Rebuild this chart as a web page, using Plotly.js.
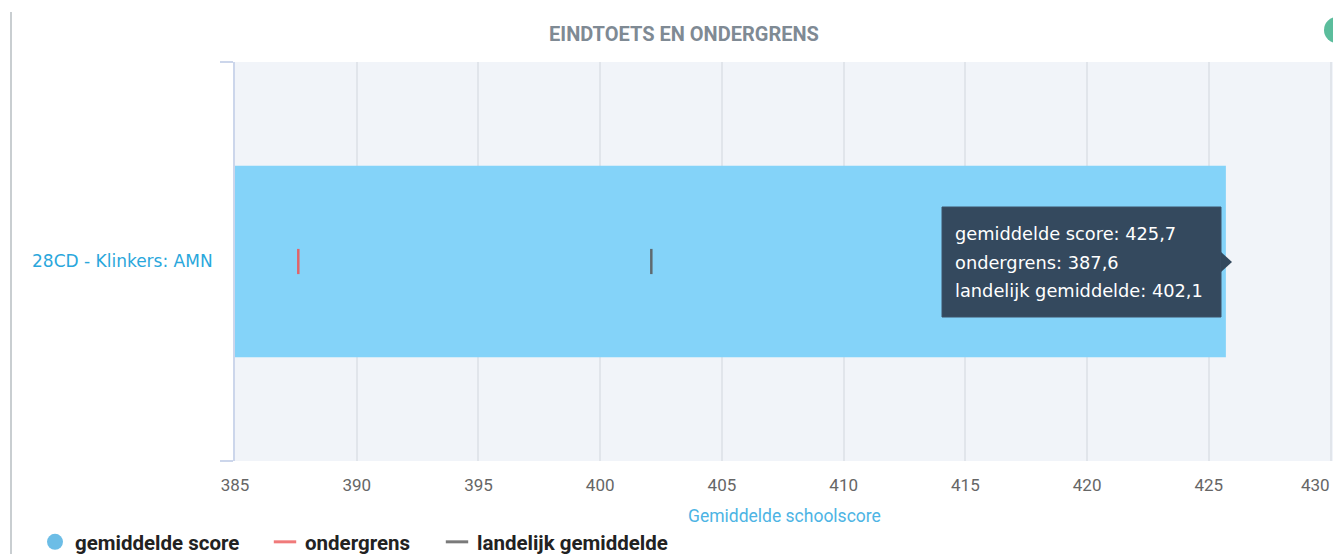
<!DOCTYPE html>
<html>
<head>
<meta charset="utf-8">
<script src="https://cdn.plot.ly/plotly-3.0.1.min.js"></script>
<style>
  html, body { margin: 0; padding: 0; background: #ffffff; }
  #chart { width: 1333px; height: 554px; }
</style>
</head>
<body>
<div id="chart"></div>
<script>
// ---- data ----
const categories = ['28CD - Klinkers: AMN'];
const gemiddeldeScore = [425.7];
const ondergrens = [387.6];
const landelijkGemiddelde = [402.1];
const xTickValues = [385, 390, 395, 400, 405, 410, 415, 420, 425, 430];
const seriesNames = ['gemiddelde score', 'ondergrens', 'landelijk gemiddelde'];
const chartTitle = 'EINDTOETS EN ONDERGRENS';
const xAxisTitle = 'Gemiddelde schoolscore';

const fmt = v => v.toFixed(1).replace('.', ',');

const legendFont = { family: 'Roboto, "Liberation Sans", sans-serif', size: 20.5, color: '#222222', weight: 'bold' };
const tickFont = { family: 'Roboto, sans-serif', size: 17, color: '#666666' };

const traces = [
  {
    type: 'bar', orientation: 'h',
    x: gemiddeldeScore, y: categories,
    width: 0.48,
    marker: { color: '#84d3f9' },
    showlegend: false, hoverinfo: 'skip'
  },
  {
    type: 'scatter', mode: 'markers',
    x: ondergrens, y: categories,
    marker: { symbol: 'line-ns', size: 18, line: { width: 2.5, color: '#e0646a' } },
    showlegend: false, hoverinfo: 'skip'
  },
  {
    type: 'scatter', mode: 'markers',
    x: landelijkGemiddelde, y: categories,
    marker: { symbol: 'line-ns', size: 18, line: { width: 2.5, color: '#5f6a70' } },
    showlegend: false, hoverinfo: 'skip'
  },
  // legend entries
  {
    type: 'scatter', mode: 'markers', x: [null], y: [null], name: seriesNames[0], legend: 'legend',
    marker: { symbol: 'circle', size: 17, color: '#6cbde6' }, hoverinfo: 'skip'
  },
  {
    type: 'scatter', mode: 'markers', x: [null], y: [null], name: seriesNames[1], legend: 'legend2',
    marker: { symbol: 'line-ew', size: 16, line: { width: 3, color: '#f07a7a' } }, hoverinfo: 'skip'
  },
  {
    type: 'scatter', mode: 'markers', x: [null], y: [null], name: seriesNames[2], legend: 'legend3',
    marker: { symbol: 'line-ew', size: 16, line: { width: 3, color: '#7a7a7a' } }, hoverinfo: 'skip'
  }
];

const PX = v => (v - 235) / 1098;          // pixel x -> paper x
const PY = v => (461 - v) / 399;           // pixel y -> paper y

function legendAt(xpx) {
  return {
    orientation: 'h',
    xref: 'container', yref: 'container',
    x: xpx / 1333, xanchor: 'left',
    y: 12 / 554, yanchor: 'middle',
    font: legendFont,
    bgcolor: 'rgba(0,0,0,0)'
  };
}

const tooltipLines = [
  seriesNames[0] + ': ' + fmt(gemiddeldeScore[0]),
  seriesNames[1] + ': ' + fmt(ondergrens[0]),
  seriesNames[2] + ': ' + fmt(landelijkGemiddelde[0])
];
const tooltipLineY = [233, 262, 290];

const lastTick = xTickValues[xTickValues.length - 1];

const annotations = tooltipLines.map((t, i) => ({
  xref: 'paper', yref: 'paper',
  x: PX(953), xanchor: 'left',
  y: PY(tooltipLineY[i]), yanchor: 'middle',
  text: t, showarrow: false, align: 'left',
  font: { family: '"DejaVu Sans", sans-serif', size: 17.8, color: '#ffffff' }
}));
// last tick label kept inside the page (as the reference does)
annotations.push({
  xref: 'paper', yref: 'paper',
  x: 1, xanchor: 'right', xshift: -1,
  y: PY(485), yanchor: 'middle',
  text: String(lastTick), showarrow: false,
  font: tickFont
});
// x-axis title
annotations.push({
  xref: 'paper', yref: 'paper',
  x: 0.5, xanchor: 'center',
  y: PY(516), yanchor: 'middle',
  text: xAxisTitle, showarrow: false,
  font: { family: 'Roboto, sans-serif', size: 17.5, color: '#4db4e4' }
});

const layout = {
  width: 1333, height: 554,
  margin: { l: 235, r: 0, t: 62, b: 93 },
  paper_bgcolor: '#ffffff',
  plot_bgcolor: '#f1f4f9',
  title: {
    text: '<b>' + chartTitle + '</b>',
    font: { family: 'Roboto, sans-serif', size: 20, color: '#7f8a94' },
    xref: 'container', x: 684 / 1333, xanchor: 'center',
    yref: 'container', y: 1 - 34 / 554, yanchor: 'middle'
  },
  xaxis: {
    range: [385, 430.1],
    tickvals: xTickValues,
    ticktext: xTickValues.map(v => v === lastTick ? '' : String(v)),
    showgrid: true, gridcolor: '#e1e5eb', gridwidth: 2,
    zeroline: false, showline: false,
    ticks: 'outside', ticklen: 9, tickcolor: 'rgba(0,0,0,0)',
    tickfont: tickFont,
    fixedrange: true
  },
  yaxis: {
    type: 'category',
    range: [-0.5, 0.5],
    showline: true, linecolor: '#ccd6eb', linewidth: 2,
    ticks: 'outside', tickson: 'boundaries', ticklen: 13, tickcolor: '#ccd6eb', tickwidth: 2,
    showgrid: false, zeroline: false,
    tickfont: { family: '"DejaVu Sans", sans-serif', size: 17, color: '#2aa7dc' },
    ticklabelstandoff: 17,
    fixedrange: true
  },
  legend: legendAt(35),
  legend2: legendAt(265),
  legend3: legendAt(437),
  annotations: annotations,
  shapes: [
    // tooltip box
    {
      type: 'rect', xref: 'paper', yref: 'paper',
      x0: PX(942), x1: PX(1221), y0: PY(317), y1: PY(207),
      fillcolor: '#34495e', line: { color: '#3d5368', width: 1 }
    },
    // tooltip arrow
    {
      type: 'path', xref: 'paper', yref: 'paper',
      path: 'M ' + PX(1221) + ' ' + PY(252) +
            ' L ' + PX(1232) + ' ' + PY(262) +
            ' L ' + PX(1221) + ' ' + PY(272) + ' Z',
      fillcolor: '#34495e', line: { width: 0 }
    },
    // container left border
    {
      type: 'line', xref: 'paper', yref: 'paper',
      x0: PX(11), x1: PX(11), y0: PY(12), y1: PY(560),
      line: { color: '#c9ced1', width: 2 }
    },
    // green icon at top right
    {
      type: 'circle', xref: 'paper', yref: 'paper',
      x0: PX(1324), x1: PX(1350), y0: PY(43), y1: PY(17),
      fillcolor: '#5bbd9c', line: { width: 0 }
    }
  ]
};

Plotly.newPlot('chart', traces, layout, { displayModeBar: false, staticPlot: true });
</script>
</body>
</html>
